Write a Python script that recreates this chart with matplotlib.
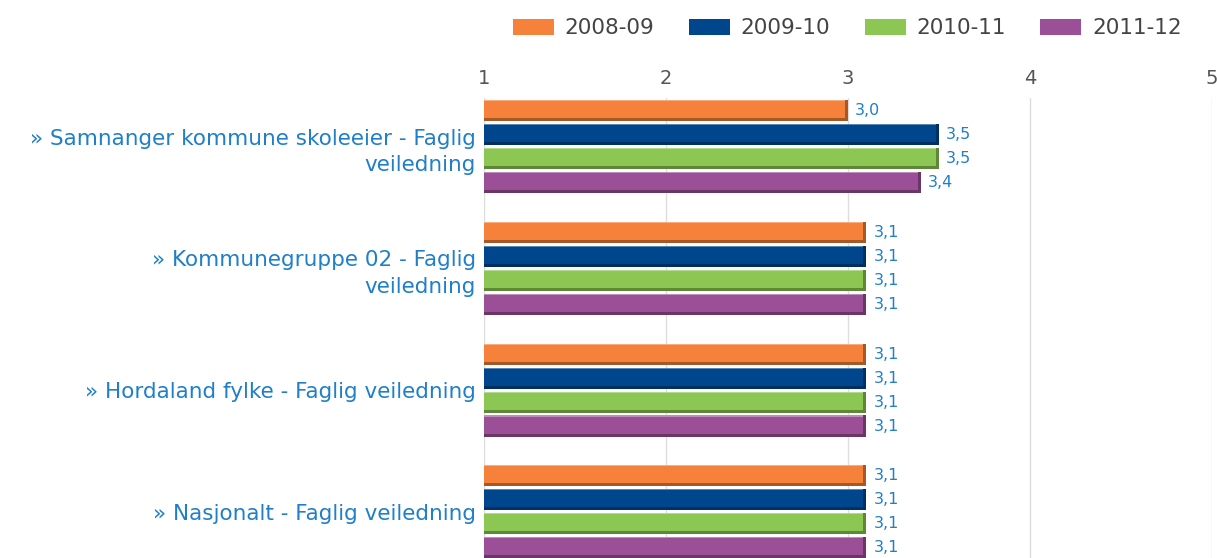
import numpy as np
import matplotlib.pyplot as plt
import matplotlib.colors as mcolors
from matplotlib.patches import Patch

plt.rcParams['font.family'] = ['DejaVu Sans']

categories = [
    "» Samnanger kommune skoleeier - Faglig\nveiledning",
    "» Kommunegruppe 02 - Faglig\nveiledning",
    "» Hordaland fylke - Faglig veiledning",
    "» Nasjonalt - Faglig veiledning",
]
series = ["2008-09", "2009-10", "2010-11", "2011-12"]
values = {
    "2008-09": [3.0, 3.1, 3.1, 3.1],
    "2009-10": [3.5, 3.1, 3.1, 3.1],
    "2010-11": [3.5, 3.1, 3.1, 3.1],
    "2011-12": [3.4, 3.1, 3.1, 3.1],
}
colors = ["#f5813a", "#00468c", "#8cc653", "#9b4f96"]

W, H = 1217, 558
fig = plt.figure(figsize=(W / 100, H / 100), dpi=100)
ax = fig.add_axes([484 / W, 0, (1212 - 484) / W, (558 - 98) / H])

y = np.arange(len(categories))
step = 0.197
bh = 0.173
label_col = "#1f7fc8"

for i, (name, col) in enumerate(zip(series, colors)):
    pos = y + (i - 1.5) * step
    vals = np.array(values[name])
    rgb = np.array(mcolors.to_rgb(col))
    dark = tuple(rgb * 0.68)
    light = tuple(rgb + (1 - rgb) * 0.35)
    # bar with darker bevel at bottom/right, lighter strip at top
    ax.barh(pos, vals - 1, left=1, height=bh, color=dark, linewidth=0, zorder=3)
    ax.barh(pos - 0.012, vals - 1 - 0.018, left=1, height=bh - 0.024,
            color=col, linewidth=0, zorder=3.1)
    ax.barh(pos - bh / 2 + 0.005, vals - 1 - 0.018, left=1, height=0.01,
            color=light, linewidth=0, zorder=3.2)
    for p, v in zip(pos, vals):
        ax.text(v + 0.04, p, f"{v:.1f}".replace(".", ","), va="center",
                ha="left", fontsize=11.5, color=label_col, zorder=4)

ax.set_xlim(1, 5)
ax.set_ylim(3.38, -0.40)
ax.set_xticks([1, 2, 3, 4, 5])
ax.xaxis.tick_top()
ax.tick_params(axis="x", length=0, pad=7, labelsize=14, labelcolor="#555555")
ax.set_yticks(y)
ax.set_yticklabels(categories, fontsize=15.5, color=label_col, linespacing=1.4)
ax.tick_params(axis="y", length=0, pad=6)
ax.grid(axis="x", color="#dddddd", linewidth=1, zorder=0)
for s in ax.spines.values():
    s.set_visible(False)

handles = [Patch(facecolor=c, edgecolor="none") for c in colors]
fig.legend(handles, series, loc="upper right", bbox_to_anchor=(1200 / W, 1.0),
           ncol=4, frameon=False, fontsize=15.5, labelcolor="#444444",
           handlelength=1.9, handleheight=0.75, handletextpad=0.5,
           columnspacing=1.6, borderaxespad=0.45)

fig.savefig("out.png", dpi=100)
